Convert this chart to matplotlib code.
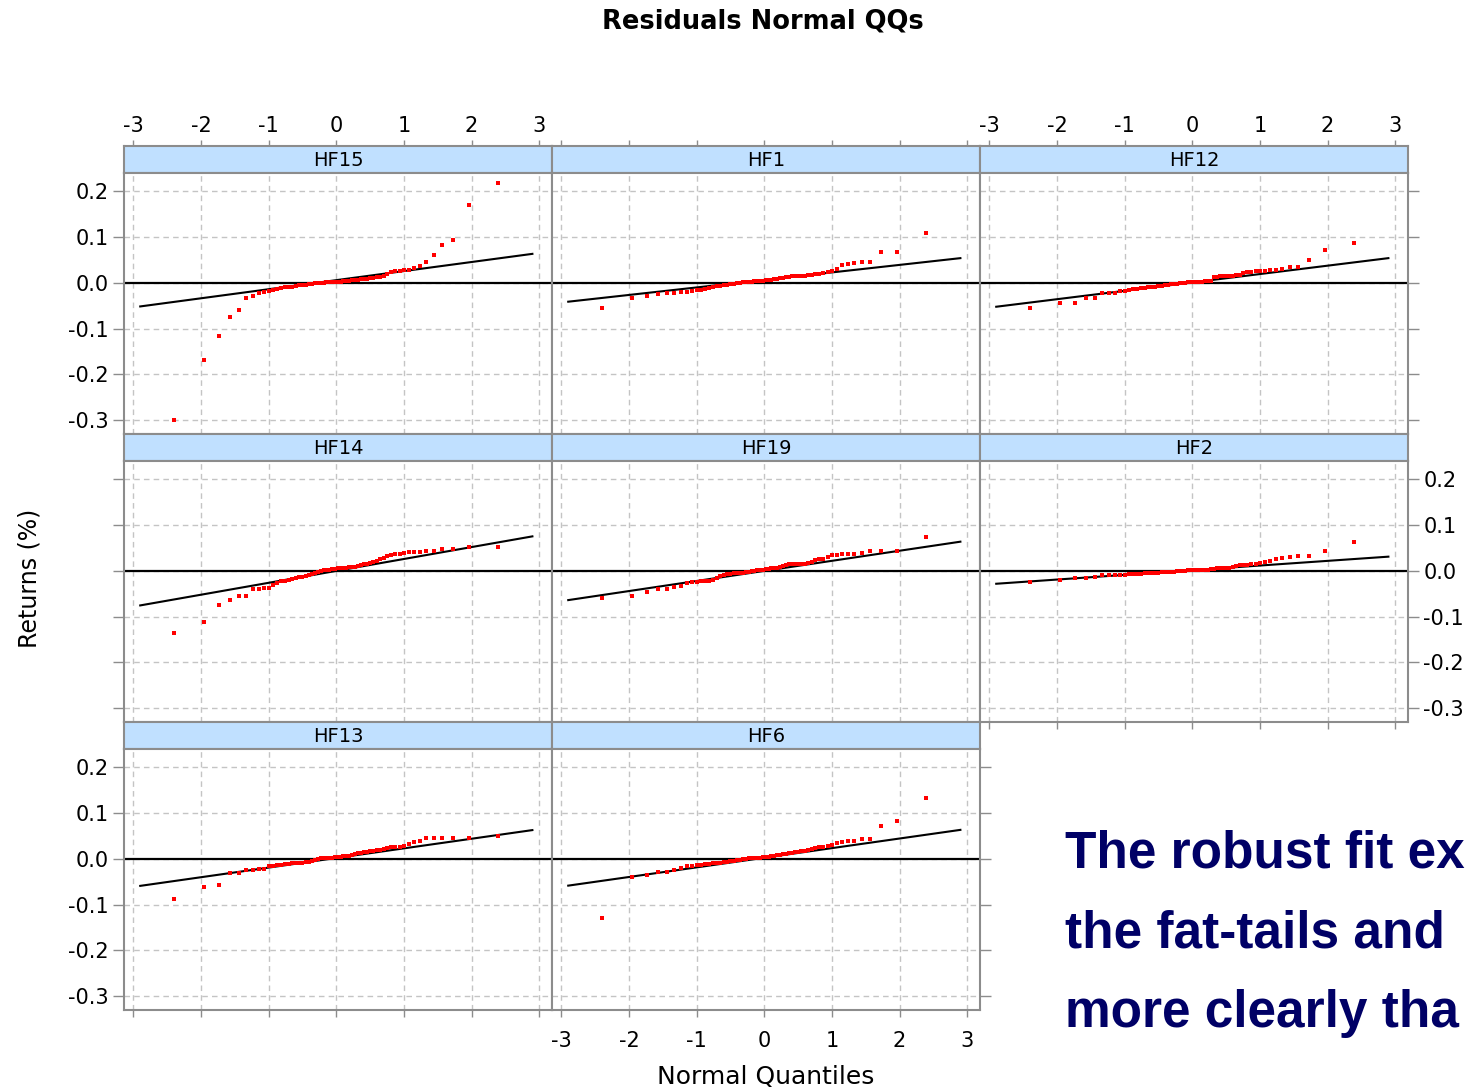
import matplotlib
matplotlib.use("Agg")
from matplotlib import pyplot as plt
from statistics import NormalDist

# panel order (row by row, lattice style)
panel_names = ['HF15', 'HF1', 'HF12', 'HF14', 'HF19', 'HF2', 'HF13', 'HF6']

# sorted residuals (60 monthly obs per fund)
hf15 = [-0.300, -0.169, -0.117, -0.075, -0.059, -0.034, -0.028, -0.022, -0.019, -0.018,
        -0.016, -0.013, -0.012, -0.010, -0.009, -0.008, -0.006, -0.005, -0.004, -0.004,
        -0.003, -0.002, -0.001, -0.001, 0.000, 0.000, 0.001, 0.001, 0.002, 0.002,
        0.003, 0.003, 0.004, 0.004, 0.005, 0.006, 0.006, 0.007, 0.008, 0.008,
        0.009, 0.010, 0.011, 0.012, 0.013, 0.014, 0.020, 0.024, 0.026, 0.027,
        0.028, 0.029, 0.033, 0.037, 0.045, 0.061, 0.082, 0.093, 0.171, 0.218]
hf1 = [-0.055, -0.034, -0.028, -0.024, -0.023, -0.022, -0.020, -0.019, -0.018, -0.016,
       -0.015, -0.013, -0.011, -0.009, -0.007, -0.006, -0.005, -0.004, -0.003, -0.002,
       -0.001, 0.000, 0.001, 0.001, 0.002, 0.003, 0.004, 0.004, 0.005, 0.005,
       0.006, 0.007, 0.007, 0.008, 0.009, 0.010, 0.011, 0.012, 0.013, 0.014,
       0.014, 0.015, 0.016, 0.016, 0.017, 0.018, 0.019, 0.020, 0.021, 0.023,
       0.026, 0.031, 0.040, 0.041, 0.044, 0.045, 0.045, 0.067, 0.067, 0.109]
hf12 = [-0.055, -0.044, -0.044, -0.034, -0.034, -0.023, -0.022, -0.021, -0.018, -0.017,
        -0.016, -0.014, -0.013, -0.012, -0.011, -0.010, -0.009, -0.008, -0.007, -0.006,
        -0.005, -0.004, -0.003, -0.003, -0.002, -0.001, 0.000, 0.000, 0.001, 0.001,
        0.002, 0.002, 0.003, 0.003, 0.004, 0.004, 0.005, 0.012, 0.013, 0.014,
        0.015, 0.015, 0.016, 0.016, 0.017, 0.018, 0.022, 0.023, 0.024, 0.025,
        0.026, 0.027, 0.028, 0.029, 0.030, 0.034, 0.035, 0.051, 0.072, 0.087]
hf14 = [-0.136, -0.111, -0.074, -0.064, -0.054, -0.054, -0.040, -0.039, -0.038, -0.037,
        -0.030, -0.026, -0.023, -0.021, -0.019, -0.017, -0.015, -0.014, -0.013, -0.011,
        -0.009, -0.007, -0.005, -0.003, -0.001, 0.001, 0.002, 0.003, 0.004, 0.005,
        0.006, 0.006, 0.007, 0.007, 0.008, 0.008, 0.009, 0.010, 0.012, 0.014,
        0.016, 0.018, 0.020, 0.022, 0.025, 0.028, 0.032, 0.034, 0.036, 0.037,
        0.039, 0.041, 0.042, 0.042, 0.043, 0.043, 0.047, 0.048, 0.052, 0.052]
hf19 = [-0.060, -0.055, -0.045, -0.040, -0.040, -0.035, -0.033, -0.026, -0.025, -0.024,
        -0.023, -0.022, -0.021, -0.019, -0.015, -0.011, -0.008, -0.007, -0.006, -0.005,
        -0.005, -0.004, -0.004, -0.003, -0.002, -0.001, 0.000, 0.001, 0.002, 0.003,
        0.004, 0.005, 0.006, 0.007, 0.007, 0.009, 0.011, 0.013, 0.014, 0.014,
        0.015, 0.015, 0.016, 0.016, 0.017, 0.020, 0.023, 0.025, 0.027, 0.030,
        0.034, 0.035, 0.036, 0.036, 0.037, 0.038, 0.043, 0.043, 0.044, 0.075]
hf2 = [-0.025, -0.020, -0.015, -0.015, -0.014, -0.010, -0.009, -0.009, -0.008, -0.008,
       -0.007, -0.007, -0.006, -0.006, -0.005, -0.005, -0.004, -0.004, -0.004, -0.003,
       -0.003, -0.003, -0.002, -0.002, -0.001, -0.001, 0.000, 0.000, 0.001, 0.001,
       0.001, 0.002, 0.002, 0.002, 0.003, 0.003, 0.004, 0.005, 0.006, 0.006,
       0.006, 0.007, 0.007, 0.008, 0.010, 0.012, 0.013, 0.013, 0.014, 0.015,
       0.018, 0.020, 0.021, 0.027, 0.028, 0.031, 0.032, 0.033, 0.044, 0.064]
hf13 = [-0.088, -0.061, -0.056, -0.030, -0.030, -0.024, -0.024, -0.023, -0.022, -0.016,
        -0.015, -0.014, -0.013, -0.012, -0.011, -0.010, -0.009, -0.008, -0.008, -0.007,
        -0.006, -0.005, -0.002, 0.000, 0.001, 0.002, 0.002, 0.003, 0.003, 0.004,
        0.004, 0.005, 0.006, 0.007, 0.007, 0.008, 0.010, 0.012, 0.013, 0.014,
        0.016, 0.017, 0.018, 0.019, 0.020, 0.022, 0.024, 0.025, 0.026, 0.027,
        0.029, 0.033, 0.036, 0.040, 0.045, 0.045, 0.045, 0.045, 0.045, 0.049]
hf6 = [-0.129, -0.039, -0.035, -0.029, -0.029, -0.024, -0.019, -0.016, -0.015, -0.014,
       -0.013, -0.012, -0.011, -0.010, -0.009, -0.008, -0.007, -0.006, -0.005, -0.004,
       -0.003, -0.002, -0.001, 0.000, 0.001, 0.002, 0.002, 0.003, 0.003, 0.004,
       0.004, 0.005, 0.006, 0.007, 0.008, 0.009, 0.010, 0.011, 0.012, 0.013,
       0.014, 0.016, 0.017, 0.018, 0.020, 0.022, 0.024, 0.025, 0.026, 0.028,
       0.030, 0.034, 0.037, 0.040, 0.040, 0.044, 0.044, 0.071, 0.082, 0.133]

residuals = [hf15, hf1, hf12, hf14, hf19, hf2, hf13, hf6]

# robust fit line for each panel
fit_intercept = [0.006, 0.0065, 0.001, 0.0, 0.0, 0.0015, 0.002, 0.0025]
fit_slope = [0.0198, 0.0164, 0.0183, 0.026, 0.022, 0.0102, 0.021, 0.021]

x_ticks = [-3, -2, -1, 0, 1, 2, 3]
y_ticks = [-0.3, -0.2, -0.1, 0.0, 0.1, 0.2]
y_ticklabels = ['-0.3', '-0.2', '-0.1', '0.0', '0.1', '0.2']

# the slide text, as much of it as shows
note_lines = ['The robust fit ex', 'the fat-tails and', 'more clearly tha']

plt.rcParams['font.family'] = ['DejaVu Sans']
plt.rcParams['axes.unicode_minus'] = False

W, H = 1471, 1091
fig = plt.figure(figsize=(W / 100, H / 100), dpi=100)


def rect(x0, y0, w, h):
    return [x0 / W, 1 - (y0 + h) / H, w / W, h / H]


frame_col = '#8c8c8c'
nd = NormalDist()

for k, name in enumerate(panel_names):
    r, c = divmod(k, 3)
    x0 = 124 + 428 * c
    top = 146 + 288 * r

    strip = fig.add_axes(rect(x0, top, 428, 27))
    ax = fig.add_axes(rect(x0, top + 27, 428, 261))

    # strip
    strip.set_facecolor('#c0e0ff')
    strip.set_xlim(-3.14, 3.19)
    strip.set_ylim(0, 1)
    strip.set_yticks([])
    strip.set_xticks(x_ticks)
    strip.tick_params(bottom=False, labelbottom=False, top=(r == 0), labeltop=(r == 0 and c != 1),
                      direction='out', length=4, width=1, color=frame_col, labelsize=15, pad=3)
    for s in strip.spines.values():
        s.set_color(frame_col)
        s.set_linewidth(1.5)
    strip.text(0.5, 0.48, name, transform=strip.transAxes, ha='center', va='center', fontsize=14)

    # qq points
    y = residuals[k]
    n = len(y)
    q = [nd.inv_cdf((i + 0.5) / n) for i in range(n)]

    ax.axhline(0, color='black', linewidth=1.6, zorder=2)
    xs = [-2.9, 2.9]
    ax.plot(xs, [fit_intercept[k] + fit_slope[k] * v for v in xs], color='black', linewidth=1.5, zorder=3)
    ax.plot(q, y, linestyle='none', marker='s', markersize=3.3, color='#ff0000', markeredgewidth=0, zorder=4)

    ax.set_xlim(-3.14, 3.19)
    ax.set_ylim(-0.33, 0.24)
    ax.set_xticks(x_ticks)
    ax.set_yticks(y_ticks)
    ax.set_yticklabels(y_ticklabels)
    ax.grid(True, color='#c4c4c4', linestyle=(0, (4, 3)), linewidth=1)
    ax.set_axisbelow(True)
    for s in ax.spines.values():
        s.set_color(frame_col)
        s.set_linewidth(1.5)

    left_on = c == 0
    right_on = (r, c) in [(0, 2), (1, 2), (2, 1)]
    bottom_on = (r, c) in [(2, 0), (2, 1), (1, 2)]
    ax.tick_params(axis='both', direction='out', color=frame_col, width=1, labelsize=15,
                   left=left_on, labelleft=(left_on and r != 1),
                   right=right_on, labelright=((r, c) == (1, 2)),
                   bottom=bottom_on, labelbottom=((r, c) == (2, 1)),
                   top=False, labeltop=False)
    ax.tick_params(axis='y', length=8, pad=3)
    ax.tick_params(axis='x', length=5, pad=10)

fig.text(763 / W, 1 - 22 / H, 'Residuals Normal QQs', ha='center', va='center',
         fontsize=18.5, fontweight='bold')
fig.text(30 / W, 1 - 578 / H, 'Returns (%)', rotation=90, ha='center', va='center', fontsize=17)
fig.text(766 / W, 1 - 1077 / H, 'Normal Quantiles', ha='center', va='center', fontsize=18)

for j, line in enumerate(note_lines):
    fig.text(1065 / W, 1 - (867 + 80 * j) / H, line, ha='left', va='baseline', fontsize=37,
             fontweight='bold', family=['Liberation Sans', 'DejaVu Sans'], color='#000066')

fig.savefig('out.png', dpi=100)
